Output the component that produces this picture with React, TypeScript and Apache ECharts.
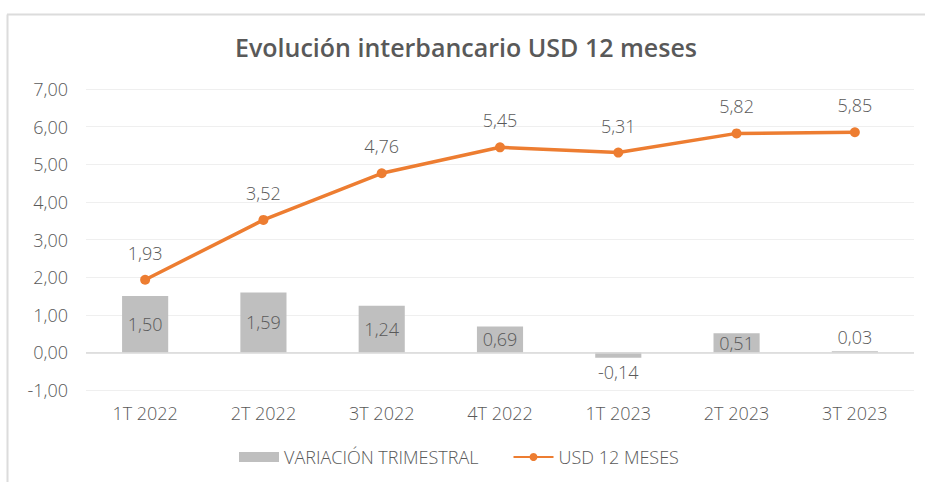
import React, { useEffect, useRef } from "react";
import * as echarts from "echarts";

const categories = ["1T 2022", "2T 2022", "3T 2022", "4T 2022", "1T 2023", "2T 2023", "3T 2023"];
const variacionTrimestral = [1.5, 1.59, 1.24, 0.69, -0.14, 0.51, 0.03];
const usd12Meses = [1.93, 3.52, 4.76, 5.45, 5.31, 5.82, 5.85];
const yTicks = { min: -1, max: 7, interval: 1 };

const fmt = (v: number) => v.toFixed(2).replace(".", ",");
const FONT = "'Open Sans', 'Noto Sans', sans-serif";
const TXT = "#595959";
const FS = 18;

export default function App() {
  const ref = useRef<HTMLDivElement>(null);
  useEffect(() => {
    document.body.style.margin = "0";
    const chart = echarts.init(ref.current!, null, { renderer: "svg" });
    chart.setOption({
      animation: false,
      backgroundColor: "#ffffff",
      textStyle: { fontFamily: FONT },
      title: {
        text: "Evolución interbancario USD 12 meses",
        left: 230,
        top: 29,
        textStyle: { fontFamily: FONT, fontSize: 25, fontWeight: 600, color: TXT },
      },
      graphic: [
        { type: "line", shape: { x1: 7.5, y1: 14.5, x2: 7.5, y2: 482 }, style: { stroke: "#DCDCDC", lineWidth: 2 } },
        { type: "line", shape: { x1: 7, y1: 14.5, x2: 925, y2: 14.5 }, style: { stroke: "#DCDCDC", lineWidth: 2 } },
      ],
      grid: { left: 86, right: 11, top: 89, bottom: 92, containLabel: false },
      legend: {
        bottom: 11,
        left: 234,
        itemGap: 34,
        itemWidth: 40,
        itemHeight: 10,
        textStyle: { fontFamily: FONT, fontSize: FS, fontWeight: 300, color: TXT },
        data: [
          { name: "VARIACIÓN TRIMESTRAL", icon: "rect" },
          { name: "USD 12 MESES" },
        ],
      },
      xAxis: {
        type: "category",
        data: categories,
        axisLine: { show: false },
        axisTick: { show: false },
        axisLabel: { fontFamily: FONT, fontSize: FS, fontWeight: 300, color: TXT, margin: 14 },
      },
      yAxis: {
        type: "value",
        min: yTicks.min,
        max: yTicks.max,
        interval: yTicks.interval,
        axisLine: { show: false },
        axisTick: { show: false },
        axisLabel: { fontFamily: FONT, fontSize: FS, fontWeight: 300, color: TXT, margin: 18, formatter: (v: number) => fmt(v) },
        splitLine: { lineStyle: { color: "#EFEFEF", width: 1 } },
      },
      series: [
        {
          name: "VARIACIÓN TRIMESTRAL",
          type: "bar",
          barWidth: "39%",
          itemStyle: { color: "#BFBFBF" },
          data: variacionTrimestral.map((v) => ({
            value: v,
            label: {
              position: v < 0 ? "bottom" : v < 0.2 ? "top" : "inside",
            },
          })),
          label: {
            show: true,
            fontFamily: FONT,
            fontSize: FS,
            fontWeight: 300,
            color: TXT,
            formatter: (p: any) => fmt(p.value),
          },
          markLine: {
            silent: true,
            symbol: "none",
            label: { show: false },
            lineStyle: { color: "#D9D9D9", width: 1.5, type: "solid" },
            data: [{ yAxis: 0 }],
          },
          z: 2,
        },
        {
          name: "USD 12 MESES",
          type: "line",
          data: usd12Meses,
          symbol: "circle",
          symbolSize: 10,
          lineStyle: { color: "#ED7D31", width: 3.5 },
          itemStyle: { color: "#ED7D31" },
          label: {
            show: true,
            position: "top",
            distance: 13,
            fontFamily: FONT,
            fontSize: FS,
            fontWeight: 300,
            color: TXT,
            formatter: (p: any) => fmt(p.value),
          },
          z: 3,
        },
      ],
    });
    return () => chart.dispose();
  }, []);
  return <div ref={ref} style={{ width: 925, height: 482 }} />;
}
